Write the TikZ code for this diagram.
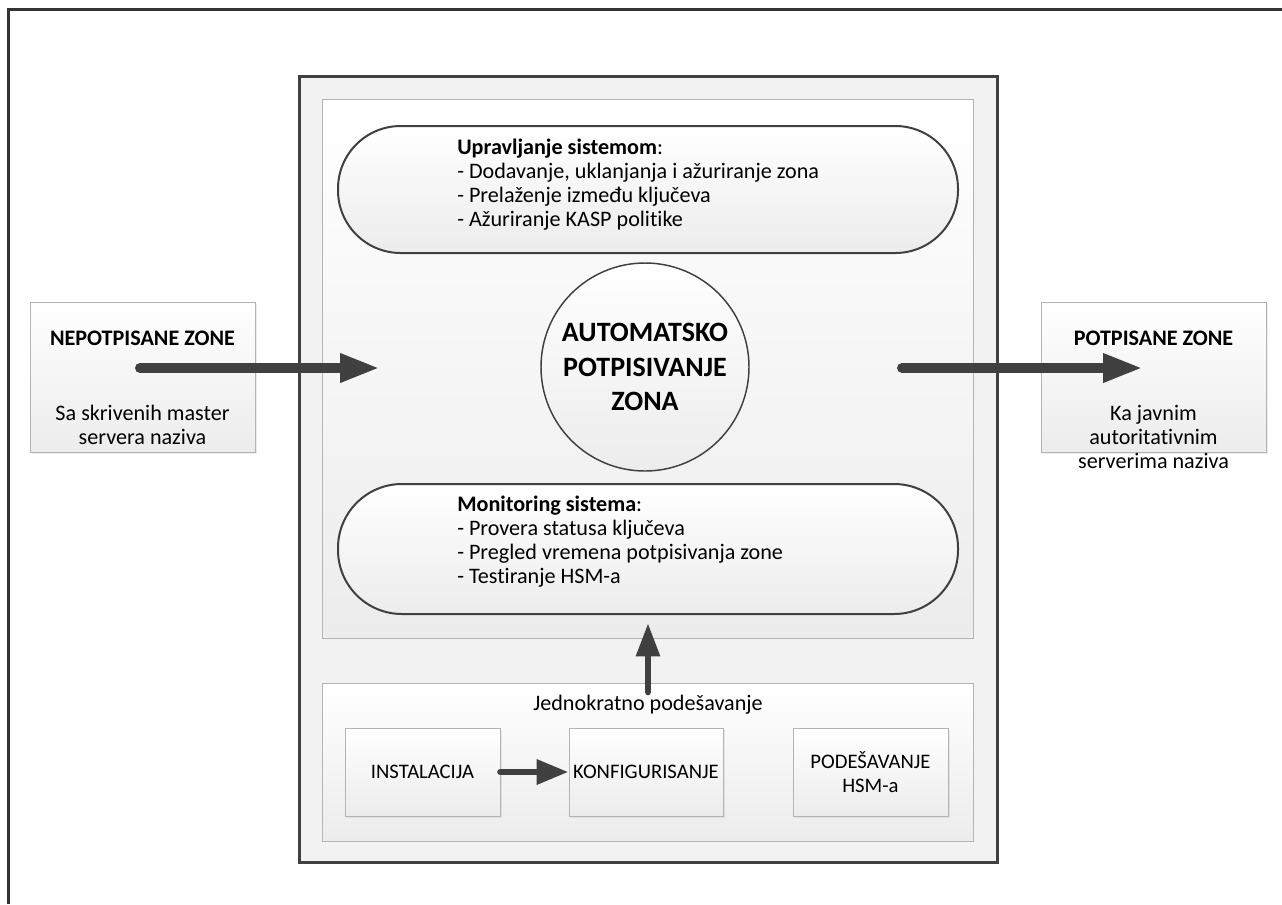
\documentclass[tikz,border=0pt]{standalone}
\usepackage{fontspec}
\setmainfont{Carlito}[Ligatures={NoCommon}]
\usetikzlibrary{arrows.meta,shadows}

\definecolor{ink}{HTML}{404040}
\definecolor{rim}{HTML}{B4B4B4}
\definecolor{paper}{HTML}{F2F2F2}
\definecolor{shadeend}{HTML}{ECECEC}

\tikzset{
  panel/.style={draw=rim, line width=0.75pt, top color=white, bottom color=shadeend, inner sep=0pt},
  card/.style={panel, drop shadow={opacity=0.15, shadow xshift=1.5pt, shadow yshift=-1.5pt}},
  pill/.style={draw=ink, line width=1.5pt, top color=white, bottom color=shadeend, inner sep=0pt},
  bigflow/.style={draw=ink, line width=7.5pt, line cap=round, -{Triangle[length=30pt,width=20pt]}},
  smallflow/.style={draw=ink, line width=5pt, line cap=round, -{Triangle[length=24pt,width=18pt]}},
  txt/.style={font=\fontsize{16.6}{18}\selectfont, inner sep=0pt},
  head/.style={txt, font=\fontsize{16.6}{18}\selectfont\bfseries},
  steptxt/.style={font=\fontsize{15.5}{18.5}\selectfont, inner sep=0pt},
}

\begin{document}
\begin{tikzpicture}[x=0.75pt, y=-0.75pt]
  \useasboundingbox (0,0) rectangle (1282,904);
  \fill[white] (0,0) rectangle (1282,904);

  % page border (top and left edges)
  \draw[line width=2.25pt, color=black!80] (1282,9) -- (8,9) -- (8,904);

  % main system frame
  \node[draw=ink, line width=2.25pt, fill=paper, minimum width=523.5pt, minimum height=589.5pt,
        drop shadow={opacity=0.15, shadow xshift=1.5pt, shadow yshift=-1.5pt}] (frame) at (648,469) {};

  % operations panel and one-time setup panel
  \node[panel, minimum width=488.25pt, minimum height=404.25pt] (ops) at (647.5,368.5) {};
  \node[panel, minimum width=488.25pt, minimum height=118.5pt] (setup) at (647.5,762) {};

  % input / output boxes
  \node[card, minimum width=168.75pt, minimum height=112.5pt] (unsigned) at (142.5,377) {};
  \node[card, minimum width=168.75pt, minimum height=112.5pt] (signed) at (1153.5,377) {};
  \node[head] (unsignedT) at (142.5,338) {NEPOTPISANE ZONE};
  \node[txt, align=center] (unsignedS) at (142.5,425) {Sa skrivenih master\\servera naziva};
  \node[head] (signedT) at (1153.5,338) {POTPISANE ZONE};
  \node[txt, align=center] (signedS) at (1153.5,437) {Ka javnim\\autoritativnim\\serverima naziva};

  % management and monitoring
  \node[pill, rounded corners=47pt, minimum width=465pt, minimum height=95.25pt] (manage) at (648,189.5) {};
  \node[pill, rounded corners=48pt, minimum width=465pt, minimum height=97.5pt] (monitor) at (648,549) {};
  \node[txt, align=left, anchor=west] (manageT) at (457,185)
    {\textbf{Upravljanje sistemom}:\\- Dodavanje, uklanjanja i ažuriranje zona\\- Prelaženje između ključeva\\- Ažuriranje KASP politike};
  \node[txt, align=left, anchor=west] (monitorT) at (457,542)
    {\textbf{Monitoring sistema}:\\- Provera statusa ključeva\\- Pregled vremena potpisivanja zone\\- Testiranje HSM-a};

  % signing core
  \node[circle, draw=ink, line width=1.1pt, top color=white, bottom color=shadeend, minimum size=156pt, inner sep=0pt,
        font=\fontsize{21}{26}\selectfont\bfseries, align=center] (core) at (645,367)
    {AUTOMATSKO\\POTPISIVANJE\\ZONA};

  % one-time setup steps
  \node[txt] (setupT) at (648,705) {Jednokratno podešavanje};
  \node[card, steptxt, minimum width=116.25pt, minimum height=66pt] (install) at (422.5,772) {INSTALACIJA};
  \node[card, steptxt, minimum width=115.5pt, minimum height=66pt] (config) at (646,772) {KONFIGURISANJE};
  \node[card, steptxt, align=center, minimum width=116.25pt, minimum height=66pt] (hsm) at (870.5,772) {PODEŠAVANJE\\HSM-a};

  % flow endpoints
  \coordinate (inStart) at (140,368);
  \coordinate (inEnd) at (380,368);
  \coordinate (outStart) at (902,368);
  \coordinate (outEnd) at (1143,368);
  \coordinate (upStart) at (648,692);
  \coordinate (upEnd) at (648,623);

  % flows
  \draw[bigflow] (inStart) -- (inEnd);
  \draw[bigflow] (outStart) -- (outEnd);
  \draw[smallflow, -{Triangle[length=25pt,width=17pt]}] (upStart) -- (upEnd);
  \draw[smallflow] (install.east) -- (config.west);
\end{tikzpicture}
\end{document}
